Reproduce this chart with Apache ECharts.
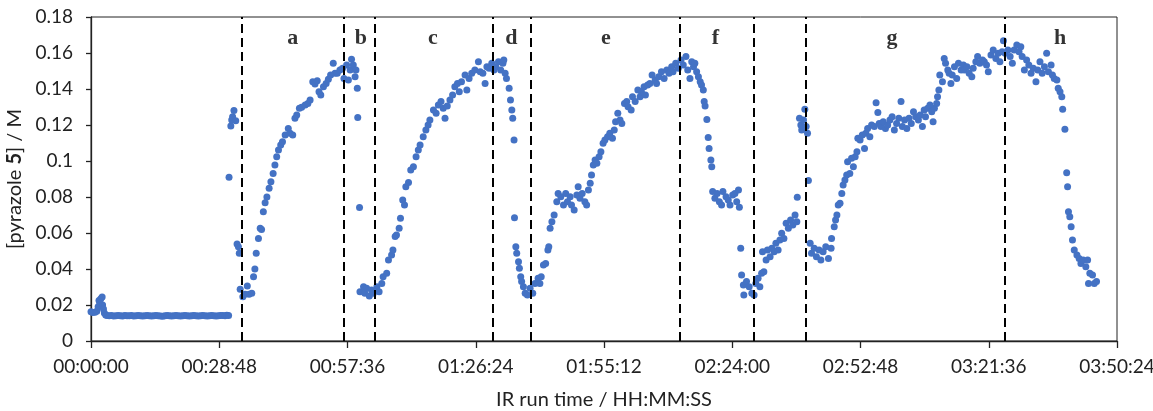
<!DOCTYPE html>
<html><head><meta charset="utf-8">
<script src="https://cdn.jsdelivr.net/npm/echarts@6/dist/echarts.min.js"></script>
<style>html,body{margin:0;padding:0;background:#fff}#c{width:1153px;height:411px}</style>
</head><body><div id="c"></div>
<script>
// x values in minutes of IR run time, y values in M
const baseline = [[0.0,0.0162],[0.4,0.0158],[0.9,0.0160],[1.3,0.0165],[1.6,0.0190],[1.8,0.0225],[2.0,0.0210],[2.2,0.0235],[2.5,0.0245],[2.6,0.0200],[2.8,0.0178],[3.0,0.0155],[3.3,0.0145],
[3.6,0.0141],[4.1,0.0140],[4.6,0.0141],[5.1,0.0139],[5.6,0.0140],[6.1,0.0141],[6.6,0.0140],[7.1,0.0139],[7.6,0.0141],[8.1,0.0140],[8.6,0.0140],[9.1,0.0141],[9.6,0.0139],[10.1,0.0140],[10.6,0.0141],[11.1,0.0140],[11.6,0.0139],[12.1,0.0140],[12.6,0.0141],[13.1,0.0140],[13.6,0.0139],[14.1,0.0140],[14.6,0.0141],[15.1,0.0140],[15.6,0.0139],[16.1,0.0138],[16.6,0.0140],[17.1,0.0141],[17.6,0.0140],[18.1,0.0139],[18.6,0.0140],[19.1,0.0141],[19.6,0.0140],[20.1,0.0139],[20.6,0.0140],[21.1,0.0141],[21.6,0.0140],[22.1,0.0139],[22.6,0.0140],[23.1,0.0141],[23.6,0.0140],[24.1,0.0139],[24.6,0.0140],[25.1,0.0141],[25.6,0.0140],[26.1,0.0139],[26.6,0.0140],[27.1,0.0141],[27.6,0.0140],[28.1,0.0139],[28.6,0.0140],[29.1,0.0141],[29.6,0.0142],[30.1,0.0140],[30.5,0.0143],[30.9,0.0141]];
const runA = [[31.0,0.0910],[31.4,0.1194],[31.6,0.1228],[31.8,0.1246],[32.1,0.1280],[32.5,0.1224],[32.8,0.0539],[33.1,0.0524],[33.3,0.0487],[33.5,0.0287],[34.1,0.0246],[34.6,0.0260],[35.1,0.0306],[35.5,0.0260],[36.1,0.0265],
[36.5,0.0357],[36.8,0.0400],[37.1,0.0487],[37.6,0.0570],[38.0,0.0626],[38.3,0.0620],[38.7,0.0718],[39.1,0.0768],[39.5,0.0800],[40.0,0.0848],[40.4,0.0885],[40.9,0.0931],[41.3,0.0978],[41.7,0.1024],[42.1,0.1061],[42.6,0.1089],[43.0,0.1107],[43.6,0.1144],[44.3,0.1181],[44.7,0.1154],[45.3,0.1144],[45.8,0.1237],[46.2,0.1256],[46.8,0.1293],[47.3,0.1298],[48.1,0.1311],[48.7,0.1320],[49.2,0.1339],[49.8,0.1440],[50.3,0.1428],[50.8,0.1446],[51.2,0.1385],[51.6,0.1367],[52.2,0.1413],[52.8,0.1431],[53.3,0.1454],[53.8,0.1478],[54.4,0.1543],[54.8,0.1487],[55.3,0.1487],[55.9,0.1506],[56.5,0.1515],[56.8,0.1459],[57.4,0.1533],[57.8,0.1450],[58.2,0.1506],[58.5,0.1565],[58.9,0.1533],[59.3,0.1468],[59.5,0.1506],[59.8,0.1404],[59.9,0.1241],[60.3,0.0741]];
const runC = [[60.4,0.0274],[61.2,0.0302],[61.5,0.0265],[61.9,0.0293],[62.5,0.0250],[63.0,0.0283],[63.4,0.0265],[64.2,0.0302],[64.7,0.0274],[65.3,0.0320],[65.6,0.0357],[66.4,0.0376],[66.8,0.0450],[67.5,0.0478],[67.8,0.0506],[68.3,0.0580],[68.6,0.0589],[69.2,0.0626],[69.5,0.0682],[70.0,0.0783],[70.4,0.0756],[70.7,0.0857],[71.3,0.0880],[71.8,0.0950],[72.4,0.0968],[73.0,0.1024],[73.5,0.1061],[73.9,0.1089],[74.6,0.1135],[75.2,0.1172],[75.7,0.1200],[76.1,0.1228],[76.9,0.1283],[77.5,0.1265],[78.0,0.1311],[78.6,0.1330],[79.1,0.1293],[79.5,0.1237],[80.0,0.1306],[80.6,0.1339],[81.2,0.1367],[81.7,0.1413],[82.3,0.1431],[82.7,0.1385],[83.2,0.1440],[84.0,0.1478],[84.4,0.1394],[84.9,0.1459],[85.5,0.1487],[86.2,0.1506],[87.0,0.1552],[87.4,0.1496],[88.0,0.1487],[88.5,0.1431],[88.9,0.1524],[89.4,0.1515],[90.0,0.1543],[90.5,0.1506],[90.9,0.1524],[91.5,0.1552],[92.0,0.1506],[92.5,0.1543],[92.7,0.1561],[93.0,0.1487],[93.3,0.1459],[93.9,0.1404],[94.2,0.1339],[94.5,0.1283],[94.7,0.1237],[95.0,0.1117],[95.1,0.0685]];
const runE = [[95.4,0.0524],[95.6,0.0487],[96.0,0.0440],[96.2,0.0404],[96.5,0.0357],[96.7,0.0330],[97.1,0.0302],[97.5,0.0265],[98.0,0.0256],[98.6,0.0293],[99.2,0.0265],[99.7,0.0320],[100.4,0.0348],[100.8,0.0320],[101.1,0.0357],[101.6,0.0422],[102.1,0.0431],[102.6,0.0506],[102.8,0.0524],[103.1,0.0626],[103.5,0.0663],[104.0,0.0700],[104.6,0.0774],[104.9,0.0820],[105.5,0.0802],[106.1,0.0756],[106.6,0.0820],[107.0,0.0774],[107.6,0.0802],[107.9,0.0756],[108.5,0.0728],[109.1,0.0811],[109.4,0.0857],[109.8,0.0793],[110.3,0.0820],[110.9,0.0774],[111.3,0.0756],[111.7,0.0839],[112.1,0.0876],[112.4,0.0922],[112.8,0.0978],[113.2,0.1006],[113.6,0.0987],[114.1,0.1024],[114.5,0.1052],[115.0,0.1098],[115.4,0.1117],[116.0,0.1135],[116.5,0.1154],[117.1,0.1126],[117.5,0.1172],[117.8,0.1218],[118.3,0.1265],[118.8,0.1228],[119.2,0.1209],[119.8,0.1320],[120.3,0.1330],[120.6,0.1302],[121.3,0.1283],[121.6,0.1357],[122.2,0.1330],[122.8,0.1394],[123.3,0.1357],[123.6,0.1385],[124.2,0.1413],[124.5,0.1367],[125.0,0.1422],[125.5,0.1431],[126.0,0.1478],[126.7,0.1450],[127.0,0.1431],[127.5,0.1468],[128.1,0.1496],[128.7,0.1459],[129.3,0.1506],[129.8,0.1487],[130.4,0.1524],[130.7,0.1496],[131.3,0.1543],[131.9,0.1515],[132.5,0.1561],[133.0,0.1533],[133.6,0.1580],[134.0,0.1506],[134.5,0.1459],[134.9,0.1552],[135.3,0.1524],[135.6,0.1543],[136.0,0.1496],[136.4,0.1468],[136.8,0.1440],[137.1,0.1422],[137.5,0.1394],[137.7,0.1330],[137.9,0.1306],[138.3,0.1231],[138.6,0.1131],[138.8,0.1070],[139.2,0.1006],[139.4,0.0968]];
const runF = [[139.6,0.0830],[140.1,0.0793],[140.6,0.0820],[141.1,0.0774],[141.6,0.0756],[141.9,0.0830],[142.6,0.0802],[143.1,0.0783],[143.5,0.0756],[144.1,0.0811],[144.6,0.0820],[145.0,0.0774],[145.4,0.0839],[145.6,0.0743],[145.9,0.0515],[146.1,0.0367],[146.5,0.0311],[146.6,0.0256],[147.2,0.0330],[147.8,0.0302],[148.4,0.0265],[148.9,0.0256],[149.3,0.0320],[149.8,0.0348],[150.2,0.0302],[150.6,0.0376],[150.8,0.0496],[151.1,0.0385],[151.6,0.0450],[151.9,0.0506],[152.5,0.0468],[152.9,0.0515],[153.4,0.0496],[153.8,0.0543],[154.3,0.0506],[154.7,0.0561],[155.1,0.0598],[155.6,0.0570],[156.1,0.0654],[156.6,0.0626],[157.1,0.0672],[157.6,0.0644],[158.1,0.0700],[158.5,0.0663],[158.6,0.0798],[159.1,0.1237],[159.4,0.1200],[159.6,0.1172],[160.0,0.1228],[160.3,0.1287],[160.6,0.1191],[160.9,0.1154],[161.1,0.0891]];
const runG = [[161.5,0.0543],[161.8,0.0487],[162.4,0.0515],[162.9,0.0468],[163.5,0.0506],[163.9,0.0450],[164.4,0.0496],[165.0,0.0524],[165.6,0.0459],[166.2,0.0515],[166.3,0.0570],[166.9,0.0635],[167.2,0.0672],[167.5,0.0700],[167.8,0.0756],[168.2,0.0765],[168.6,0.0820],[168.9,0.0867],[169.3,0.0894],[169.7,0.0922],[169.9,0.0996],[170.4,0.0931],[170.8,0.1015],[171.2,0.0968],[171.6,0.1024],[172.0,0.1052],[172.2,0.1126],[172.7,0.1117],[173.2,0.1144],[173.7,0.1070],[174.0,0.1154],[174.4,0.1181],[174.9,0.1135],[175.3,0.1200],[175.9,0.1191],[176.3,0.1324],[176.7,0.1269],[177.0,0.1209],[177.4,0.1191],[177.9,0.1218],[178.4,0.1181],[178.9,0.1200],[179.4,0.1228],[179.9,0.1246],[180.4,0.1172],[180.9,0.1209],[181.4,0.1237],[181.9,0.1330],[182.2,0.1191],[182.7,0.1228],[183.2,0.1181],[183.7,0.1237],[184.2,0.1209],[184.7,0.1274],[185.2,0.1246],[185.8,0.1228],[186.2,0.1256],[186.7,0.1191],[187.1,0.1283],[187.4,0.1246],[187.9,0.1293],[188.4,0.1311],[188.8,0.1274],[189.1,0.1218],[189.4,0.1293],[189.9,0.1320],[190.1,0.1357],[190.4,0.1394],[190.6,0.1478],[191.2,0.1440],[191.6,0.1570],[191.9,0.1543],[192.4,0.1506],[192.7,0.1487],[193.1,0.1431],[193.4,0.1478],[193.9,0.1524],[194.4,0.1459],[194.8,0.1543],[195.4,0.1506],[195.9,0.1533],[196.1,0.1506],[196.7,0.1524],[197.2,0.1487],[197.8,0.1468],[198.1,0.1515],[198.7,0.1552],[199.1,0.1580],[199.6,0.1543],[200.2,0.1561],[200.6,0.1552],[201.1,0.1533],[201.5,0.1496],[202.1,0.1589],[202.6,0.1617],[203.2,0.1570],[203.7,0.1598],[204.1,0.1552],[204.6,0.1607],[204.9,0.1668]];
const runH = [[205.3,0.1598],[205.9,0.1617],[206.4,0.1580],[206.9,0.1543],[207.3,0.1617],[207.9,0.1644],[208.4,0.1607],[208.8,0.1635],[209.1,0.1580],[209.6,0.1506],[210.1,0.1561],[210.6,0.1533],[211.1,0.1487],[211.6,0.1515],[212.2,0.1440],[212.6,0.1506],[213.1,0.1552],[213.6,0.1487],[214.1,0.1524],[214.6,0.1598],[215.0,0.1496],[215.6,0.1533],[215.9,0.1478],[216.3,0.1459],[216.9,0.1450],[217.2,0.1404],[217.6,0.1385],[218.0,0.1357],[218.2,0.1287],[218.7,0.1176],[219.1,0.0935],[219.3,0.0857],[219.5,0.0718],[219.8,0.0690],[220.1,0.0635],[220.4,0.0561],[220.8,0.0506],[221.4,0.0478],[221.9,0.0459],[222.3,0.0431],[222.8,0.0450],[223.4,0.0413],[223.8,0.0450],[224.0,0.0320],[224.3,0.0376],[224.9,0.0367],[225.3,0.0320],[225.8,0.0330]];

const dividerTimes = [33.84,56.81,63.62,90.21,98.85,132.27,148.73,160.56,205.25];
const stageLabels = ['a','b','c','d','e','f','g','h'];
const stageLabelTimes = [45.3,60.6,76.8,94.4,115.6,140.2,179.9,217.6];
const stageLabelLevel = 0.168;
const xMax = 230.4, xStep = 28.8;
const yMax = 0.18, yStep = 0.02;

function hms(v){
  const s = Math.round(v*60);
  const h = Math.floor(s/3600), m = Math.floor((s%3600)/60), ss = s%60;
  const p = n => String(n).padStart(2,'0');
  return p(h)+':'+p(m)+':'+p(ss);
}
const points = [].concat(baseline, runA, runC, runE, runF, runG, runH);
const labelData = stageLabels.map((n,i)=>({name:n, value:[stageLabelTimes[i], stageLabelLevel]}));
const axisFont = 'Lato, "Liberation Sans", sans-serif';

const chart = echarts.init(document.getElementById('c'), null, {renderer:'canvas'});
chart.setOption({
  animation:false,
  grid:{left:91,right:36,top:17,bottom:70,containLabel:false,outerBoundsMode:'none',show:true,borderColor:'#222',borderWidth:1,backgroundColor:'transparent'},
  xAxis:{type:'value',min:0,max:xMax,interval:xStep,
    name:'IR run time / HH:MM:SS',nameLocation:'middle',nameGap:49,
    nameTextStyle:{fontFamily:axisFont,fontSize:20,color:'#222'},
    axisLine:{show:true,onZero:false,lineStyle:{color:'#222',width:1.3}},
    axisTick:{show:true,length:7,inside:false,lineStyle:{color:'#222',width:1.3}},
    axisLabel:{fontFamily:axisFont,fontSize:19,color:'#222',margin:16,formatter:hms},
    splitLine:{show:false}},
  yAxis:{type:'value',min:0,max:yMax,interval:yStep,
    name:'[pyrazole {b|5}] / M',nameLocation:'middle',nameGap:59,
    nameTextStyle:{fontFamily:axisFont,fontSize:20,color:'#222',rich:{b:{fontFamily:axisFont,fontSize:20,fontWeight:'bold',color:'#222'}}},
    axisLine:{show:true,lineStyle:{color:'#222',width:1.3}},
    axisTick:{show:true,length:5,inside:false,lineStyle:{color:'#222',width:1.3}},
    axisLabel:{fontFamily:axisFont,fontSize:19,color:'#222',margin:18},
    splitLine:{show:false}},
  series:[
    {type:'scatter',data:points,symbol:'circle',symbolSize:7,
     itemStyle:{color:'#4472C4',opacity:1},z:2,
     markLine:{silent:true,symbol:['none','none'],label:{show:false},
       lineStyle:{color:'#000',width:2,type:[9,5]},
       data:dividerTimes.map(t=>({xAxis:t}))}},
    {type:'scatter',data:labelData,symbolSize:0,z:3,
     label:{show:true,position:'inside',formatter:'{b}',fontFamily:'"Liberation Serif", "Times New Roman", serif',fontWeight:'bold',fontSize:22,color:'#000'}}
  ]
});
</script></body></html>
